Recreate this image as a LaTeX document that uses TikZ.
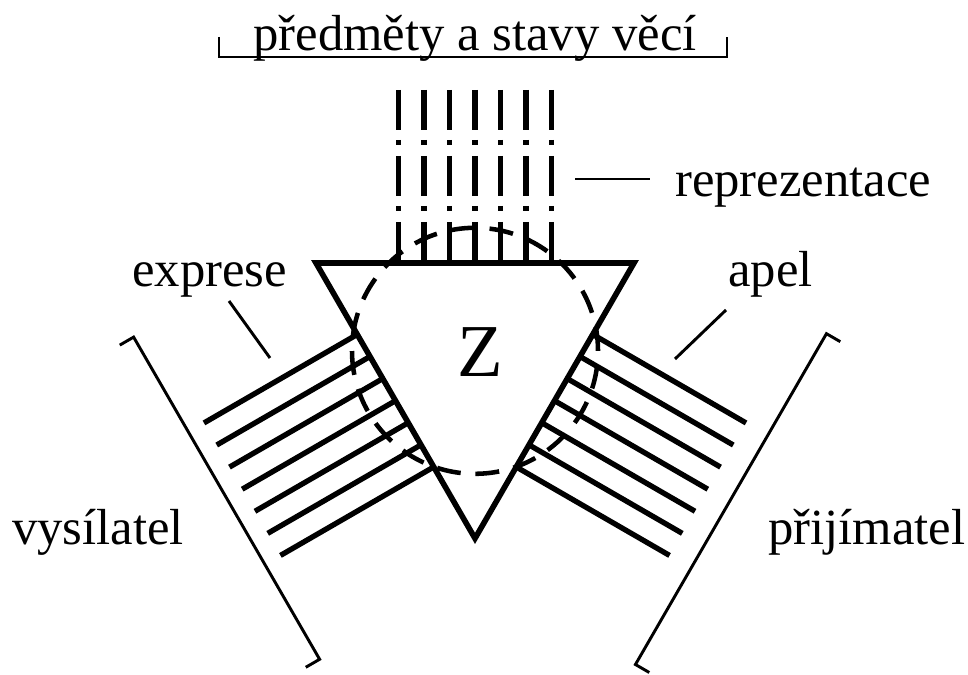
\documentclass[tikz,border=0pt]{standalone}
\usepackage{fontspec}
\setmainfont{Liberation Serif}

\begin{document}
\begin{tikzpicture}[x=0.75pt, y=0.75pt, line cap=butt,
    every node/.style={font=\fontsize{38}{40}\selectfont, inner sep=0pt},
    ray/.style={line width=4pt},
    dashray/.style={ray, dash pattern=on 30pt off 7.5pt on 4pt off 8pt},
    brace/.style={line width=2.2pt},
    pointer/.style={line width=2.2pt}]
    \useasboundingbox (0,0) rectangle (968,675);
    \coordinate (O) at (475,320.2);
    \begin{scope}[shift={(O)}]
        \coordinate (tl) at (150:183.6);
        \coordinate (tr) at (30:183.6);
        \coordinate (bt) at (270:183.6);
        \draw[line width=4.2pt, line join=miter] (tl) -- (tr) -- (bt) -- cycle;
        \draw[line width=3.4pt, dash pattern=on 18pt off 11pt] (0,4) circle (123);
        % representation
        \foreach \k in {-3,...,3}
            \draw[dashray] (\k*25.5, 264.8) -- (\k*25.5, 91.8);
        \draw[brace] (-256, 317.8) -- (-256, 297.8) -- (252, 297.8) -- (252, 317.8);
        % expression
        \begin{scope}[rotate=120]
            \foreach \k in {-3,...,3}
                \draw[ray] (\k*25.5, 91.8) -- (\k*25.5, 268.8);
            \draw[brace] (-186, 302.8) -- (-186, 286.8) -- (186, 286.8) -- (186, 302.8);
        \end{scope}
        % appeal
        \begin{scope}[rotate=-120]
            \foreach \k in {-3,...,3}
                \draw[ray] (\k*25.5, 91.8) -- (\k*25.5, 268.8);
            \draw[brace] (-194, 309.8) -- (-194, 293.8) -- (188, 293.8) -- (188, 309.8);
        \end{scope}
    \end{scope}
    \node[font=\fontsize{56}{60}\selectfont] (sign) at (480,323) {Z};
    \node[anchor=base] (objects) at (475,624) {předměty a stavy věcí};
    \node[anchor=base west] (repr) at (675,478.3) {reprezentace};
    \node[anchor=base west] (expr) at (132,388) {exprese};
    \node[anchor=base west] (appeal) at (728,388) {apel};
    \node[anchor=base west] (sender) at (12,130) {vysílatel};
    \node[anchor=base west] (receiver) at (768,130) {přijímatel};
    \coordinate (repr1) at (575,496);
    \coordinate (repr2) at (650,496);
    \coordinate (expr1) at (229,374);
    \coordinate (expr2) at (270,317);
    \coordinate (appeal1) at (726,365);
    \coordinate (appeal2) at (675,316);
    \draw[pointer] (repr1) -- (repr2);
    \draw[pointer] (expr1) -- (expr2);
    \draw[pointer] (appeal1) -- (appeal2);
\end{tikzpicture}
\end{document}
